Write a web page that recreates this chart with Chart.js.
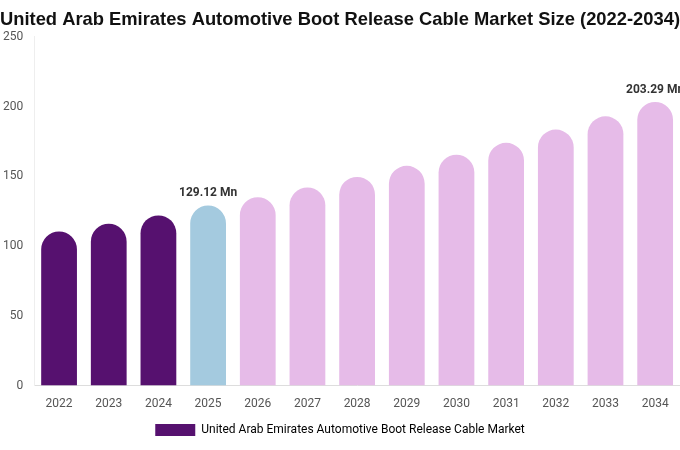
<!DOCTYPE html>
<html>
<head>
<meta charset="utf-8">
<script src="https://cdn.jsdelivr.net/npm/chart.js@4"></script>
<style>
  body { margin: 0; background: #fff; }
  #wrap { width: 680px; height: 450px; }
</style>
</head>
<body>
<div id="wrap"><canvas id="myChart"></canvas></div>
<script>
const years = ["2022","2023","2024","2025","2026","2027","2028","2029","2030","2031","2032","2033","2034"];
const marketSize = [110.5, 116, 122, 129.12, 135, 142, 149.6, 157.5, 165.5, 174, 183.5, 193, 203.29];
const barColors = ["#56116f","#56116f","#56116f","#a4cadf","#e6bbe8","#e6bbe8","#e6bbe8","#e6bbe8","#e6bbe8","#e6bbe8","#e6bbe8","#e6bbe8","#e6bbe8"];
const labelled = { 3: "129.12 Mn", 12: "203.29 Mn" };

// draw the value labels above the highlighted bars
const valueLabels = {
  id: "valueLabels",
  afterDatasetsDraw(chart) {
    const ctx = chart.ctx;
    const meta = chart.getDatasetMeta(0);
    ctx.save();
    ctx.font = "bold 12px Roboto, 'Liberation Sans', sans-serif";
    ctx.fillStyle = "#333";
    ctx.textAlign = "center";
    for (const i in labelled) {
      const bar = meta.data[i];
      ctx.fillText(labelled[i], bar.x, bar.y - 12);
    }
    ctx.restore();
  }
};

new Chart(document.getElementById("myChart"), {
  type: "bar",
  data: {
    labels: years,
    datasets: [{
      label: "United Arab Emirates Automotive Boot Release Cable Market",
      data: marketSize,
      backgroundColor: barColors,
      borderRadius: { topLeft: 18, topRight: 18 },
      borderSkipped: "bottom",
      categoryPercentage: 1,
      barPercentage: 0.72
    }]
  },
  options: {
    responsive: true,
    maintainAspectRatio: false,
    animation: false,
    layout: { padding: { left: 0, right: 0, top: 0, bottom: 4 } },
    scales: {
      x: {
        grid: { display: false },
        border: { color: "#ddd" },
        ticks: { color: "#555", font: { size: 12, family: "Roboto, 'Liberation Sans', sans-serif" } }
      },
      y: {
        min: 0, max: 250,
        grid: { display: false },
        border: { color: "#eee" },
        ticks: { stepSize: 50, color: "#555", font: { size: 12, family: "Roboto, 'Liberation Sans', sans-serif" } }
      }
    },
    plugins: {
      title: {
        display: true,
        text: "United Arab Emirates Automotive Boot Release Cable Market Size (2022-2034)",
        color: "#111",
        font: { size: 19, weight: "bold", family: "'Liberation Sans', Arial, sans-serif" },
        padding: { top: 8, bottom: 6 }
      },
      legend: {
        position: "bottom",
        labels: {
          color: "#555",
          boxWidth: 40, boxHeight: 12,
          font: { size: 12, family: "Roboto, 'Liberation Sans', sans-serif" },
          generateLabels: () => [{ text: "United Arab Emirates Automotive Boot Release Cable Market", fillStyle: "#56116f", strokeStyle: "#56116f", lineWidth: 0 }]
        }
      },
      tooltip: { enabled: false }
    }
  },
  plugins: [valueLabels]
});
</script>
</body>
</html>
